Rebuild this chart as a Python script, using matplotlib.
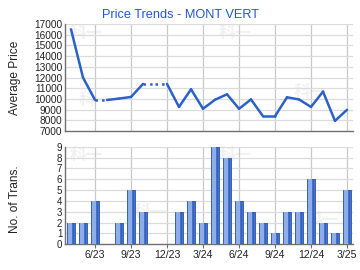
import matplotlib
matplotlib.use("Agg")
import matplotlib.pyplot as plt
import numpy as np

plt.rcParams['font.family'] = ['Liberation Sans', 'DejaVu Sans']

months = ['4/23', '5/23', '6/23', '7/23', '8/23', '9/23', '10/23', '11/23', '12/23',
          '1/24', '2/24', '3/24', '4/24', '5/24', '6/24', '7/24', '8/24', '9/24',
          '10/24', '11/24', '12/24', '1/25', '2/25', '3/25']
prices = [16500, 12000, 9900, None, 10030, 10180, 11400, None, None,
          9250, 10900, 9080, 9920, 10430, 9080, 9950, 8380, 8380,
          10150, 9950, 9250, 10680, 7950, 8980]
trans = [2, 2, 4, 0, 2, 5, 3, 0, 0, 3, 4, 2, 9, 8, 4, 3, 2, 1, 3, 3, 6, 2, 1, 5]
tick_idx = [2, 5, 8, 11, 14, 17, 20, 23]

line_col = '#2b62c9'
title_col = '#2457cc'
grid_h = '#dcdcdc'
grid_v = '#c8c8c8'
spine_col = '#707070'

fig = plt.figure(figsize=(3.6, 2.7), dpi=100)
ax1 = fig.add_axes([65/360, 1-131/270, 288/360, 107/270])
ax2 = fig.add_axes([65/360, 1-244.3/270, 288/360, 97.6/270])

x = np.arange(len(months))

# price line: missing months carry the last value, drawn dotted
drawn = []
last = None
for p in prices:
    if p is not None:
        last = p
    drawn.append(last)
for i in range(1, len(x)):
    ls = ':' if prices[i] is None else '-'
    ax1.plot([x[i-1], x[i]], [drawn[i-1], drawn[i]], color=line_col, lw=1.8,
             ls=ls, solid_capstyle='round', zorder=3)

# bars with a simple shaded look
ax2.bar(x, trans, width=0.72, color='#4672cc', edgecolor='#2b52ac', lw=0.6, zorder=3)
ax2.bar(x - 0.1, trans, width=0.3, color='#8eaeea', lw=0, zorder=4)
ax2.bar(x + 0.22, trans, width=0.14, color='#3560bb', lw=0, zorder=4)

for ax in (ax1, ax2):
    ax.set_xlim(-0.5, 23.5)
    for s in ('top', 'right'):
        ax.spines[s].set_visible(False)
    for s in ('left', 'bottom'):
        ax.spines[s].set_color(spine_col)
        ax.spines[s].set_linewidth(1.0)
    for t in tick_idx:
        ax.axvline(t, color=grid_v, lw=0.9, zorder=1)
    ax.set_xticks(tick_idx)
    ax.tick_params(axis='y', length=0, labelsize=7.3, pad=2, colors='#222222')
    ax.tick_params(axis='x', length=3, color=spine_col, labelsize=7.6, pad=1)
    ax.tick_params(axis='x', labelcolor='#222222')

ax1.set_ylim(7000, 17000)
yt = np.arange(7000, 17001, 1000)
ax1.set_yticks(yt)
ax1.set_yticklabels([str(v) for v in yt])
for v in yt[1:]:
    ax1.axhline(v, color=grid_h, lw=0.9, zorder=1)
ax1.tick_params(axis='x', length=0, labelbottom=False)

ax2.set_ylim(0, 9)
ax2.set_yticks(range(10))
ax2.tick_params(axis='y', labelsize=7.0)
for v in range(1, 10):
    ax2.axhline(v, color=grid_h, lw=0.9, zorder=1)
ax2.set_xticklabels([months[i] for i in tick_idx])

# faint watermarks behind the grid
marks1 = [(86, 33), (235, 33), (310, 92), (95, 100)]
marks2 = [(86, 155), (235, 155), (150, 212), (322, 220)]
for ax, marks in ((ax1, marks1), (ax2, marks2)):
    for (wx, wy) in marks:
        ax.text(wx/360, 1-wy/270, '科一', transform=fig.transFigure, fontsize=12,
                color='#f1f1f1', weight='bold', family=['Noto Sans CJK SC'],
                ha='center', va='center', zorder=0.5)

fig.text(180/360, 1-15/270, 'Price Trends - MONT VERT', color=title_col, fontsize=9.2,
         ha='center', va='center')
fig.text(15/360, 1-77.5/270, 'Average Price', rotation=90, fontsize=8.6,
         ha='center', va='center', color='#222222')
fig.text(15/360, 1-199/270, 'No. of Trans.', rotation=90, fontsize=8.6,
         ha='center', va='center', color='#222222')

fig.savefig('out.png', dpi=100)
